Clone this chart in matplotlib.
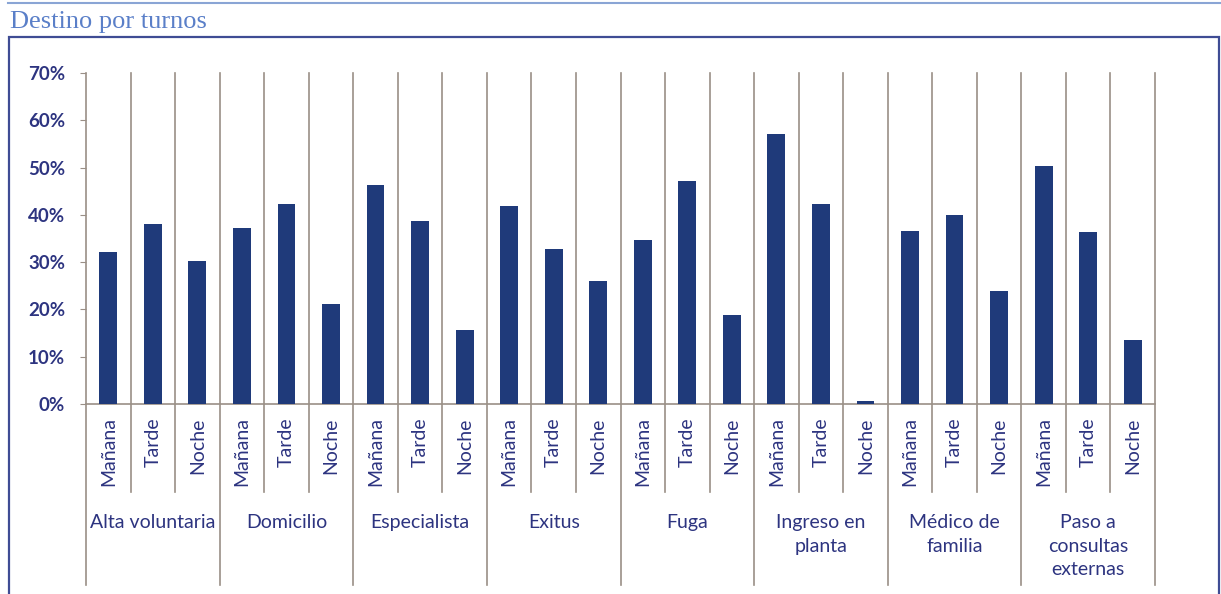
import numpy as np
import matplotlib
matplotlib.use("Agg")
import matplotlib.pyplot as plt
from matplotlib.lines import Line2D
from matplotlib.patches import Rectangle

groups = ["Alta voluntaria", "Domicilio", "Especialista", "Exitus", "Fuga",
          "Ingreso en\nplanta", "Médico de\nfamilia", "Paso a\nconsultas\nexternas"]
turnos = ["Mañana", "Tarde", "Noche"]
valores = [
    [32.2, 38.0, 30.2],
    [37.3, 42.4, 21.1],
    [46.3, 38.7, 15.6],
    [41.9, 32.8, 26.0],
    [34.7, 47.2, 18.8],
    [57.2, 42.3, 0.7],
    [36.6, 40.0, 23.8],
    [50.4, 36.3, 13.5],
]

navy = "#1f3a7a"
txt = "#2d3480"
grid = "#9a8f86"

plt.rcParams["font.family"] = ["Lato", "DejaVu Sans"]

fig = plt.figure(figsize=(12.21, 5.94), dpi=100)

# page decorations: top rule, frame and title
fig.add_artist(Line2D([8/1221, 1], [1 - 3/594] * 2, color="#8aa5d5", lw=1.5))
fig.add_artist(Rectangle((9/1221, -0.05), (1219 - 9)/1221, 1.05 - 37/594,
                         transform=fig.transFigure, fill=False,
                         edgecolor="#3f4c94", lw=1.6))
fig.text(10/1221, 1 - 28/594, "Destino por turnos", family="Liberation Serif",
         fontsize=19, color="#5a7fc8", va="baseline", ha="left")

ax = fig.add_axes([86/1221, (594 - 404)/594, (1155 - 86)/1221, (404 - 73)/594])

vals = np.array(valores).ravel()
n = len(vals)
x = np.arange(n) + 0.5
ax.bar(x, vals, width=0.4, color=navy, zorder=3)

ax.set_xlim(0, n)
ax.set_ylim(0, 70)
ax.set_yticks(np.arange(0, 71, 10))
ax.set_yticklabels([f"{v}%" for v in range(0, 71, 10)], fontsize=13.5,
                   fontweight="bold", color=txt)
ax.tick_params(axis="y", length=4.5, color=grid, pad=10.5)
ax.set_xticks([])
for s in ["top", "right"]:
    ax.spines[s].set_visible(False)
ax.spines["left"].set_visible(False)
ax.spines["bottom"].set_color(grid)
ax.spines["bottom"].set_linewidth(1.2)

tr = ax.get_xaxis_transform()
# vertical separators, longer at group boundaries
for i in range(n + 1):
    bottom = -0.547 if i % 3 == 0 else -0.266
    ax.add_line(Line2D([i, i], [1, bottom], transform=tr, color=grid,
                       lw=1.2, clip_on=False, zorder=2))

for i in range(n):
    ax.text(x[i], -0.04, turnos[i % 3], transform=tr, rotation=90,
            ha="center", va="top", fontsize=14, color=txt)

for g, name in enumerate(groups):
    ax.text(g * 3 + 1.5, -0.333, name, transform=tr, ha="center", va="top",
            fontsize=14, color=txt, linespacing=1.45)

fig.savefig("out.png", dpi=100)
